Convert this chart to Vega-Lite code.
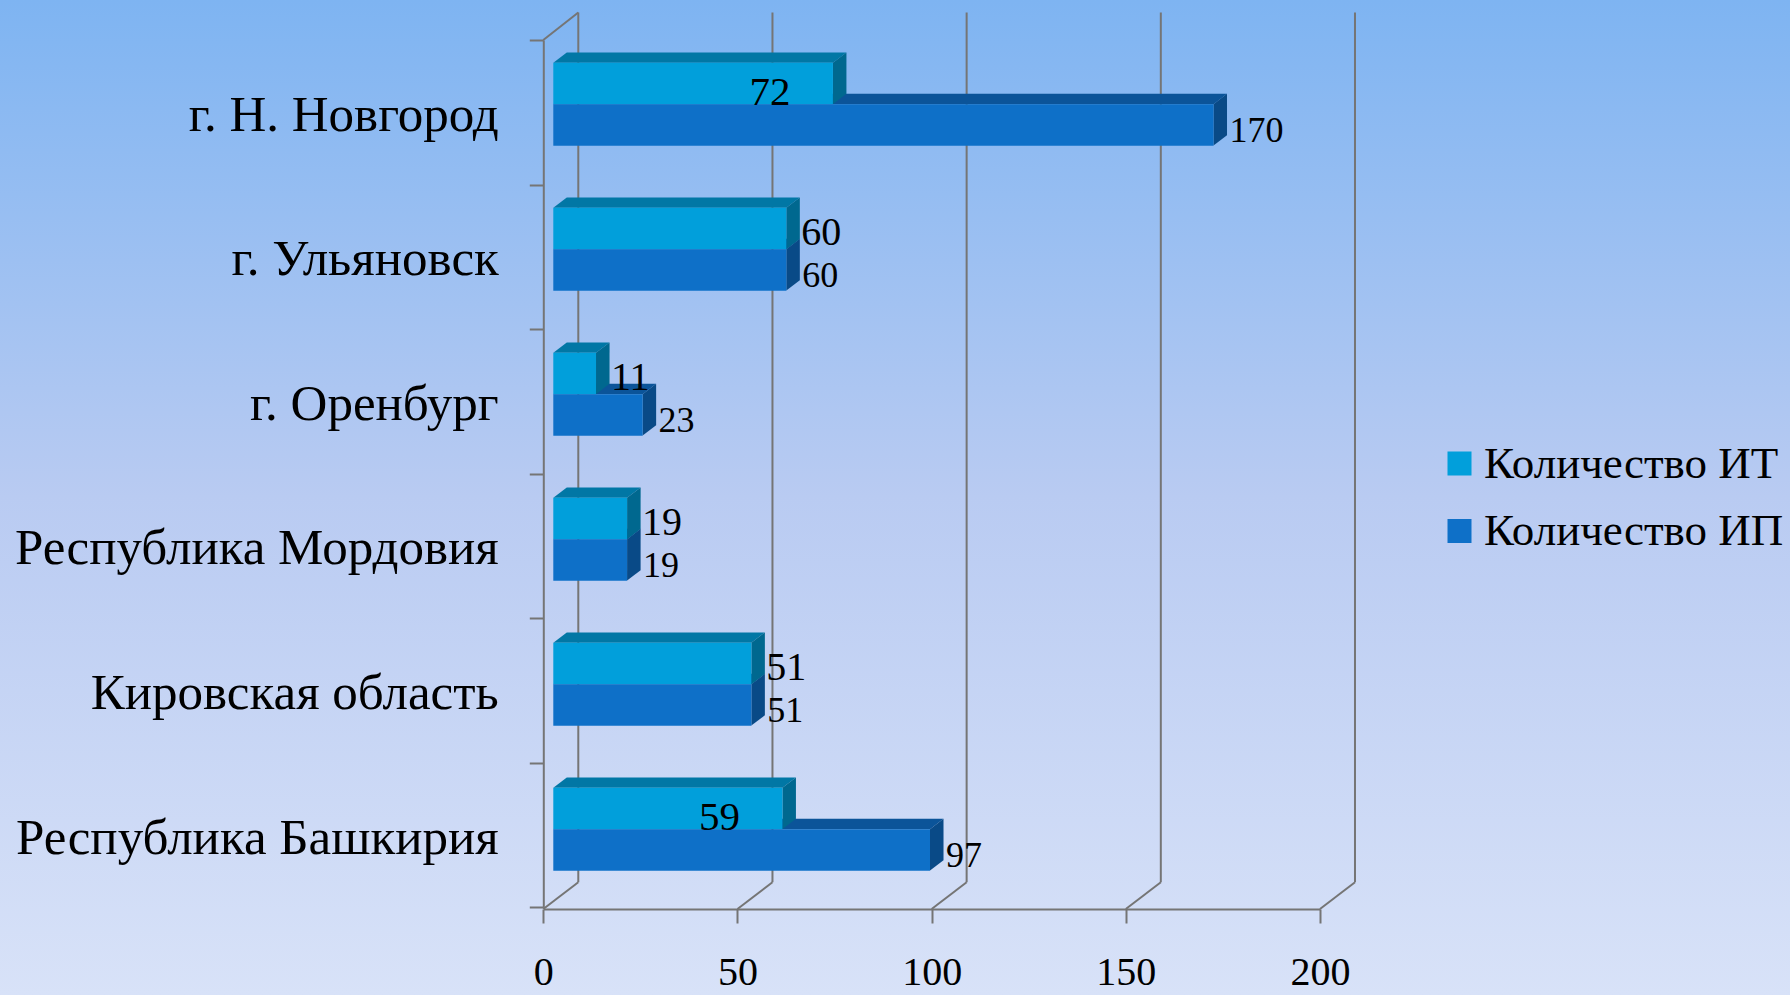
{
"$schema":"https://vega.github.io/schema/vega-lite/v6.json",
"autosize":{"type":"none"},
"width":1790,"height":995,"padding":0,
"view":{"stroke":null,"fill":{"gradient":"linear","x1":0,"y1":0,"x2":0,"y2":1,"stops":[{"offset":0,"color":"#7eb4f2"},{"offset":0.5,"color":"#b9cbf2"},{"offset":1,"color":"#d8e2f8"}]}},
"config":{"font":"Liberation Serif"},
"datasets":{"ticks":[{"tick":0},{"tick":50},{"tick":100},{"tick":150},{"tick":200}]},
"data":{"values":[
{"city":"г. Н. Новгород","series":"Количество ИТ","value":72},
{"city":"г. Н. Новгород","series":"Количество ИП","value":170},
{"city":"г. Ульяновск","series":"Количество ИТ","value":60},
{"city":"г. Ульяновск","series":"Количество ИП","value":60},
{"city":"г. Оренбург","series":"Количество ИТ","value":11},
{"city":"г. Оренбург","series":"Количество ИП","value":23},
{"city":"Республика Мордовия","series":"Количество ИТ","value":19},
{"city":"Республика Мордовия","series":"Количество ИП","value":19},
{"city":"Кировская область","series":"Количество ИТ","value":51},
{"city":"Кировская область","series":"Количество ИП","value":51},
{"city":"Республика Башкирия","series":"Количество ИТ","value":59},
{"city":"Республика Башкирия","series":"Количество ИП","value":97}
]},
"transform":[
{"calculate":"indexof(['г. Н. Новгород','г. Ульяновск','г. Оренбург','Республика Мордовия','Кировская область','Республика Башкирия'],datum.city)+0.157+(datum.series=='Количество ИП'?0.2857:0)","as":"t"},
{"calculate":"[2.575,6.055,datum.value+2.575,datum.value+6.055]","as":"tx"},
{"calculate":"[datum.t,datum.t-0.0713,datum.t-0.0713,datum.t-0.0713]","as":"ty"},
{"calculate":"[datum.t,datum.t,datum.t,datum.t-0.0713]","as":"ty2"},
{"calculate":"[datum.value+2.575,datum.value+6.055,null,null]","as":"sx"},
{"calculate":"[datum.t,datum.t-0.0713,null,null]","as":"sy"},
{"calculate":"[datum.t+0.2857,datum.t+0.2144,null,null]","as":"sy2"},
{"flatten":["tx","ty","ty2","sx","sy","sy2"]}
],
"resolve":{"scale":{"y":"independent"},"axis":{"y":"independent"}},
"layer":[
{"data":{"name":"ticks"},"transform":[{"calculate":"datum.tick+9.01","as":"xb"}],
 "mark":{"type":"rule","color":"#757575","strokeWidth":2},
 "encoding":{
  "x":{"field":"xb","type":"quantitative","scale":{"domain":[0,200],"range":[543.3,1320],"nice":false},"axis":{"orient":"bottom","offset":-86,"title":null,"values":[0,50,100,150,200],"grid":false,"domain":true,"ticks":true,"labels":true,"domainColor":"#757575","domainWidth":2,"tickColor":"#757575","tickWidth":2,"tickSize":14,"labelFont":"Liberation Serif","labelFontSize":40,"labelColor":"#000000","labelPadding":29,"labelFlush":false,"labelOverlap":false}},
  "y":{"datum":-0.19,"type":"quantitative","scale":{"domain":[0,6],"range":[40,907.3],"nice":false,"zero":false},"axis":null},
  "y2":{"datum":5.827}}},
{"data":{"name":"ticks"},"transform":[{"calculate":"datum.tick+9.01","as":"xb"}],
 "mark":{"type":"rule","color":"#757575","strokeWidth":2},
 "encoding":{
  "x":{"field":"tick","type":"quantitative"},
  "x2":{"field":"xb"},
  "y":{"datum":6.012,"type":"quantitative","scale":{"domain":[0,6],"range":[40,907.3],"nice":false,"zero":false},"axis":null},
  "y2":{"datum":5.827}}},
{"data":{"name":"ticks"},"transform":[{"filter":"datum.tick==0"},{"calculate":"datum.tick+9.01","as":"xb"}],
 "mark":{"type":"rule","color":"#757575","strokeWidth":2},
 "encoding":{
  "x":{"field":"tick","type":"quantitative"},
  "x2":{"field":"xb"},
  "y":{"datum":0,"type":"quantitative","scale":{"domain":[0,6],"range":[40,907.3],"nice":false,"zero":false},"axis":null},
  "y2":{"datum":-0.19}}},
{"mark":{"type":"rule","opacity":0},
 "encoding":{
  "y":{"field":"city","type":"nominal","sort":null,"scale":{"domain":["г. Н. Новгород","г. Ульяновск","г. Оренбург","Республика Мордовия","Кировская область","Республика Башкирия"],"range":[40,907.3],"paddingInner":0,"paddingOuter":0},
   "axis":{"orient":"left","offset":-543.3,"title":null,"tickBand":"extent","domainColor":"#757575","domainWidth":2,"tickColor":"#757575","tickWidth":2,"tickSize":14,"labelFont":"Liberation Serif","labelFontSize":51,"labelColor":"#000000","labelPadding":31,"labelOffset":3,"labelLimit":600}}}},
{"transform":[{"filter":"datum.series=='Количество ИП'"}],
 "mark":{"type":"area","color":"#0b5499"},
 "encoding":{"x":{"field":"tx","type":"quantitative"},
  "y":{"field":"ty","type":"quantitative","stack":null,"axis":null,"scale":{"domain":[0,6],"range":[40,910],"nice":false,"zero":false}},
  "y2":{"field":"ty2"},"detail":{"field":"city"}}},
{"transform":[{"filter":"datum.series=='Количество ИП' && datum.sx!=null"}],
 "mark":{"type":"area","color":"#094a87"},
 "encoding":{"x":{"field":"sx","type":"quantitative"},
  "y":{"field":"sy","type":"quantitative","stack":null,"axis":null,"scale":{"domain":[0,6],"range":[40,910],"nice":false,"zero":false}},
  "y2":{"field":"sy2"},"detail":{"field":"city"}}},
{"transform":[{"filter":"datum.series=='Количество ИТ'"}],
 "mark":{"type":"area","color":"#0177a5"},
 "encoding":{"x":{"field":"tx","type":"quantitative"},
  "y":{"field":"ty","type":"quantitative","stack":null,"axis":null,"scale":{"domain":[0,6],"range":[40,910],"nice":false,"zero":false}},
  "y2":{"field":"ty2"},"detail":{"field":"city"}}},
{"transform":[{"filter":"datum.series=='Количество ИТ' && datum.sx!=null"}],
 "mark":{"type":"area","color":"#00688f"},
 "encoding":{"x":{"field":"sx","type":"quantitative"},
  "y":{"field":"sy","type":"quantitative","stack":null,"axis":null,"scale":{"domain":[0,6],"range":[40,910],"nice":false,"zero":false}},
  "y2":{"field":"sy2"},"detail":{"field":"city"}}},
{"transform":[{"filter":"datum.sx!=null && datum.tx==2.575"}],
 "mark":{"type":"bar","xOffset":10},
 "encoding":{
  "x":{"field":"value","type":"quantitative","stack":null},
  "x2":{"datum":2.575},
  "y":{"field":"city","type":"nominal","sort":null,"axis":null,"scale":{"domain":["г. Н. Новгород","г. Ульяновск","г. Оренбург","Республика Мордовия","Кировская область","Республика Башкирия"],"range":[31.7,901.7],"paddingInner":0,"paddingOuter":0}},
  "yOffset":{"field":"series","type":"nominal","scale":{"domain":["Количество ИТ","Количество ИП"],"paddingInner":0,"paddingOuter":0.75}},
  "color":{"field":"series","type":"nominal","scale":{"domain":["Количество ИТ","Количество ИП"],"range":["#019fdb","#0e70c8"]},
   "legend":{"orient":"none","legendX":1437,"legendY":441,"title":null,"symbolType":"square","symbolSize":576,"symbolStrokeWidth":0,"labelFont":"Liberation Serif","labelFontSize":45,"labelColor":"#000000","labelOffset":2,"rowPadding":21.5,"labelLimit":400}}}},
{"transform":[{"filter":"datum.tx==2.575"},{"filter":"datum.series=='Количество ИТ' && datum.city!='г. Н. Новгород' && datum.city!='Республика Башкирия'"}],
 "mark":{"type":"text","align":"left","baseline":"alphabetic","dx":25,"dy":17,"fontSize":40,"color":"#000000"},
 "encoding":{
  "x":{"field":"value","type":"quantitative"},
  "y":{"field":"city","type":"nominal","sort":null,"axis":null,"scale":{"domain":["г. Н. Новгород","г. Ульяновск","г. Оренбург","Республика Мордовия","Кировская область","Республика Башкирия"],"range":[31.7,901.7],"paddingInner":0,"paddingOuter":0}},
  "yOffset":{"field":"series","type":"nominal","scale":{"domain":["Количество ИТ","Количество ИП"],"paddingInner":0,"paddingOuter":0.75}},
  "text":{"field":"value","type":"quantitative"}}},
{"transform":[{"filter":"datum.tx==2.575"},{"filter":"datum.series=='Количество ИТ' && (datum.city=='г. Н. Новгород' || datum.city=='Республика Башкирия')"}],
 "mark":{"type":"text","align":"center","baseline":"alphabetic","dx":-53,"dy":22,"fontSize":41,"color":"#000000"},
 "encoding":{
  "x":{"field":"value","type":"quantitative"},
  "y":{"field":"city","type":"nominal","sort":null,"axis":null,"scale":{"domain":["г. Н. Новгород","г. Ульяновск","г. Оренбург","Республика Мордовия","Кировская область","Республика Башкирия"],"range":[31.7,901.7],"paddingInner":0,"paddingOuter":0}},
  "yOffset":{"field":"series","type":"nominal","scale":{"domain":["Количество ИТ","Количество ИП"],"paddingInner":0,"paddingOuter":0.75}},
  "text":{"field":"value","type":"quantitative"}}},
{"transform":[{"filter":"datum.tx==2.575"},{"filter":"datum.series=='Количество ИП'"}],
 "mark":{"type":"text","align":"left","baseline":"alphabetic","dx":26,"dy":17,"fontSize":36,"color":"#000000"},
 "encoding":{
  "x":{"field":"value","type":"quantitative"},
  "y":{"field":"city","type":"nominal","sort":null,"axis":null,"scale":{"domain":["г. Н. Новгород","г. Ульяновск","г. Оренбург","Республика Мордовия","Кировская область","Республика Башкирия"],"range":[31.7,901.7],"paddingInner":0,"paddingOuter":0}},
  "yOffset":{"field":"series","type":"nominal","scale":{"domain":["Количество ИТ","Количество ИП"],"paddingInner":0,"paddingOuter":0.75}},
  "text":{"field":"value","type":"quantitative"}}}
]
}
